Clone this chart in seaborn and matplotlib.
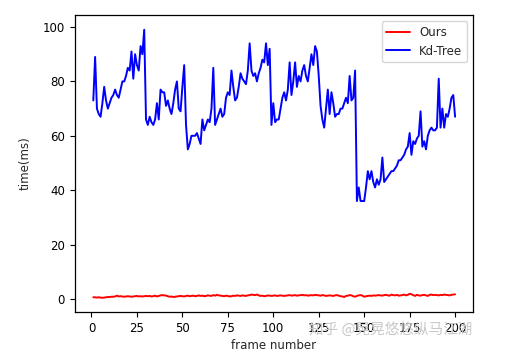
import numpy as np
import pandas as pd
import matplotlib
matplotlib.use('Agg')
import matplotlib.pyplot as plt
import seaborn as sns

# frame index 1..200
frames = list(range(1, 201))

# Kd-Tree query time (ms)
kdtree_ms = [
    73, 89, 70, 68, 67, 72, 78, 73, 70, 72,
    74, 75, 77, 75, 74, 77, 80, 80, 82, 85,
    84, 91, 81, 90, 86, 84, 93, 90, 99, 66,
    64, 67, 65, 64, 66, 72, 66, 77, 76, 76,
    71, 73, 70, 68, 72, 77, 80, 70, 69, 78,
    86, 64, 55, 57, 60, 60, 60, 61, 59, 57,
    66, 62, 64, 66, 65, 70, 85, 64, 66, 68,
    70, 67, 68, 74, 76, 75, 84, 78, 73, 74,
    78, 83, 81, 80, 79, 84, 94, 84, 82, 83,
    80, 83, 85, 88, 87, 94, 86, 92, 64, 72,
    65, 66, 66, 70, 74, 76, 73, 77, 87, 75,
    80, 87, 78, 82, 80, 84, 86, 82, 80, 85,
    90, 86, 93, 91, 82, 71, 66, 63, 70, 77,
    68, 76, 72, 67, 68, 68, 70, 70, 72, 74,
    72, 82, 73, 74, 84, 36, 41, 36, 36, 36,
    41, 47, 44, 47, 43, 41, 44, 42, 44, 52,
    43, 44, 45, 46, 47, 47, 48, 49, 51, 51,
    52, 53, 55, 56, 61, 53, 58, 57, 59, 60,
    69, 56, 58, 55, 60, 62, 63, 62, 62, 63,
    81, 63, 70, 63, 68, 67, 70, 74, 75, 67,
]

# our method (ms)
ours_ms = [
    0.6, 0.6, 0.5, 0.6, 0.5, 0.4, 0.5, 0.6, 0.7, 0.7,
    0.8, 0.8, 0.9, 1.2, 0.9, 1.0, 0.9, 0.8, 0.9, 1.0,
    0.9, 0.8, 0.9, 1.0, 1.1, 0.9, 1.0, 0.9, 1.0, 1.1,
    1.0, 1.1, 0.9, 1.0, 1.2, 0.9, 1.1, 1.3, 1.4, 1.3,
    1.2, 1.0, 0.8, 0.9, 0.7, 0.8, 0.9, 1.0, 1.1, 1.0,
    0.9, 1.1, 1.2, 1.0, 1.1, 1.2, 1.0, 1.1, 1.3, 1.1,
    1.2, 1.0, 1.1, 1.3, 1.2, 1.1, 1.4, 1.2, 1.5, 1.3,
    1.2, 1.1, 1.0, 1.2, 1.1, 0.9, 1.0, 1.2, 1.1, 1.3,
    1.2, 1.1, 1.3, 1.2, 1.1, 1.3, 1.4, 1.6, 1.5, 1.4,
    1.6, 1.3, 1.1, 1.2, 1.0, 1.1, 1.3, 1.2, 1.1, 1.2,
    1.3, 1.1, 1.2, 1.3, 1.2, 1.1, 1.2, 1.3, 1.4, 1.2,
    1.3, 1.4, 1.2, 1.3, 1.4, 1.5, 1.3, 1.4, 1.2, 1.3,
    1.4, 1.3, 1.5, 1.4, 1.3, 1.2, 1.4, 1.3, 1.1, 1.2,
    1.3, 1.2, 1.1, 1.3, 1.4, 1.2, 1.0, 0.9, 0.7, 1.1,
    1.2, 1.4, 1.3, 1.0, 0.8, 1.1, 1.3, 1.4, 1.2, 0.8,
    1.0, 1.1, 1.2, 1.1, 1.3, 1.2, 1.3, 1.4, 1.3, 1.2,
    1.4, 1.5, 1.3, 1.2, 1.6, 1.4, 1.3, 1.5, 1.2, 1.3,
    1.4, 1.6, 1.3, 1.5, 1.9, 1.7, 1.4, 1.1, 1.5, 1.3,
    1.2, 1.4, 1.5, 1.3, 1.1, 1.5, 1.6, 1.4, 1.5, 1.4,
    1.3, 1.5, 1.4, 1.6, 1.5, 1.4, 1.3, 1.5, 1.6, 1.7,
]

methods = ['Ours', 'Kd-Tree']
colors = ['red', 'blue']

df = pd.DataFrame({
    'frame': frames * 2,
    'time': ours_ms + kdtree_ms,
    'method': ['Ours'] * len(frames) + ['Kd-Tree'] * len(frames),
})

sns.set_style('ticks')
plt.rcParams['font.family'] = ['DejaVu Sans', 'Noto Sans CJK SC']

fig, ax = plt.subplots(figsize=(5.12, 3.59), dpi=100)
fig.subplots_adjust(left=0.146, right=0.924, bottom=0.131, top=0.958)

sns.lineplot(data=df, x='frame', y='time', hue='method', hue_order=methods,
             palette=dict(zip(methods, colors)), linewidth=1.4, ax=ax)

ax.set_xlim(-9.2, 209.9)
ax.set_ylim(-4.8, 104.4)
ax.set_xticks([0, 25, 50, 75, 100, 125, 150, 175, 200])
ax.set_yticks([0, 20, 40, 60, 80, 100])
ax.tick_params(labelsize=8.5, length=3.5, width=0.8, colors='black')
ax.set_xlabel('frame number', fontsize=8.5, labelpad=3)
ax.set_ylabel('time(ms)', fontsize=8.5, labelpad=8)
for s in ax.spines.values():
    s.set_color('black')
    s.set_linewidth(0.9)

leg = ax.legend(loc='upper right', fontsize=8.5, frameon=True, fancybox=True,
                handlelength=2.0, borderaxespad=0.5)
leg.get_frame().set_edgecolor('#cccccc')

# watermark
fig.text(0.922, 0.081, '知乎 @晃晃悠悠纵马江湖', ha='right', va='center',
         fontsize=10.5, color='#c8c8c8', family=['Noto Sans CJK SC', 'DejaVu Sans'])

plt.savefig('out.png', dpi=100)
plt.close()
